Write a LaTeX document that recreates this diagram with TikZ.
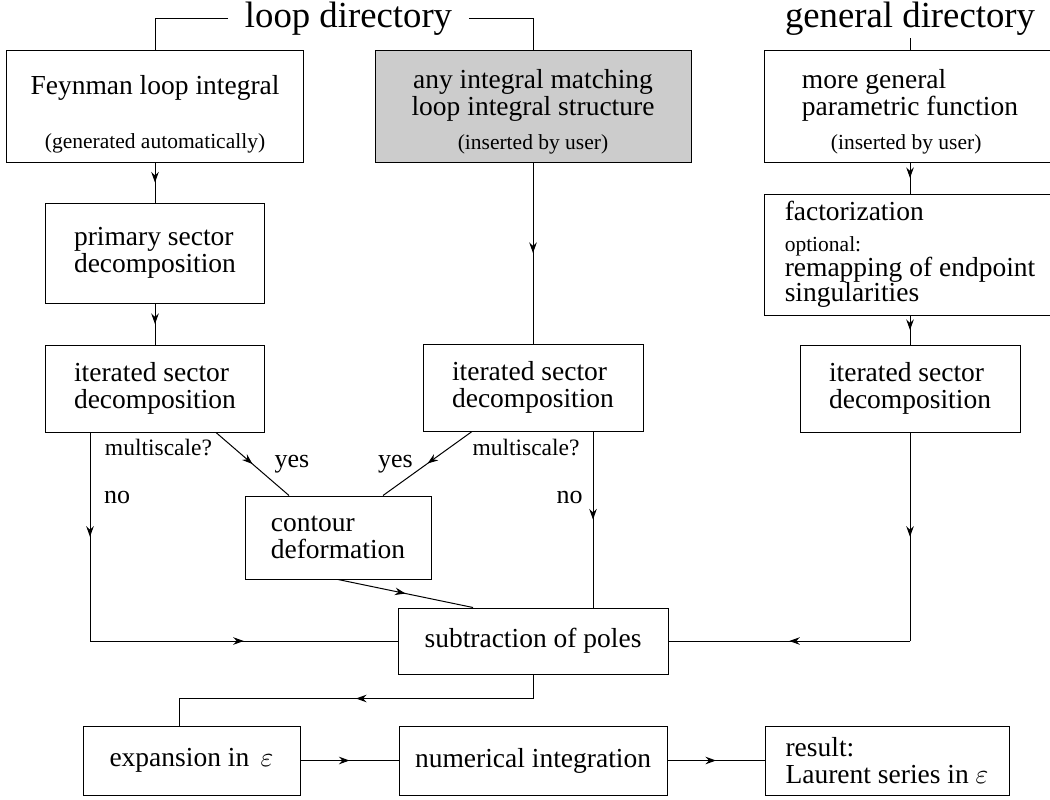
\documentclass[tikz,border=0pt]{standalone}
\usepackage{fontspec}
\setmainfont{Liberation Serif}
\usetikzlibrary{arrows.meta,positioning,decorations.markings}
\newcommand{\subnote}{\fontsize{8.6}{10}\selectfont}

\begin{document}
\begin{tikzpicture}[
    x=0.4pt, y=-0.4pt,
    box/.style = {rectangle, draw=black, thin, align=left, inner sep=2pt,
                  font=\fontsize{11}{10.8}\selectfont},
    head/.style = {font=\fontsize{14.7}{16}\selectfont, inner sep=1pt, inner xsep=6.5pt},
    lbl/.style = {font=\fontsize{10.4}{12}\selectfont, inner sep=0pt,
                  text height=7pt, text depth=2.5pt},
    ask/.style = {lbl, font=\fontsize{9.4}{11}\selectfont},
    arrow/.style = {thin, postaction={decorate},
      decoration={markings, mark=at position 0.5 with {\arrow{Stealth[length=4.2pt,width=3pt]}}}}
  ]
    \useasboundingbox (0,0) rectangle (1050,799);
    % directories
    \node[head] (ld) at (348.5,18.5) {loop directory};
    \node[head] (gd) at (910,18.5) {general directory};
    % top row
    \node[box, align=center, minimum width=118.4pt, minimum height=44.4pt] (fey) at (155,106.5)
      {\rule{0pt}{13.7pt}Feynman loop integral\\[10.6pt]\subnote(generated automatically)};
    \node[box, align=center, fill=black!20, minimum width=126.4pt, minimum height=44.4pt] (any) at (533,106.5)
      {\rule{0pt}{11.5pt}any integral matching\\loop integral structure\\[2.8pt]\subnote(inserted by user)};
    \node[box, minimum width=116.8pt, minimum height=44.4pt] (gen) at (910,106.5)
      {\rule{0pt}{11.5pt}more general\\parametric function\\[2.8pt]\hspace*{11.6pt}\subnote(inserted by user)};
    % left column
    \node[box, minimum width=87.2pt, minimum height=40pt, below=16pt of fey] (prim) {primary sector\\decomposition};
    \node[box, minimum width=87.2pt, minimum height=34.8pt, below=16.4pt of prim] (itl) {iterated sector\\decomposition};
    % middle column
    \node[box, minimum width=88pt, minimum height=34.8pt, below=72.4pt of any] (itm) {iterated sector\\decomposition};
    % right column
    \node[box, minimum width=116.8pt, minimum height=48.4pt, below=12.4pt of gen] (fac)
      {factorization\\[1.6pt]{\subnote optional:}\\[-1pt]remapping of endpoint\\[-0.6pt]singularities};
    \node[box, minimum width=88pt, minimum height=34.8pt, below=11.6pt of fac] (itr) {iterated sector\\decomposition};
    % lower part
    \node[box, minimum width=74.4pt, minimum height=33.2pt] (con) at (338,537.5) {contour\\deformation};
    \node[box, minimum width=108pt, minimum height=26.4pt] (sub) at (533,641) {subtraction of poles};
    \node[box, minimum width=86.8pt, minimum height=27.6pt] (exp) at (191.5,760.5) {expansion in \,$\varepsilon$};
    \node[box, minimum width=107.2pt, minimum height=27.6pt, right=39.2pt of exp] (num) {numerical integration};
    \node[box, minimum width=97.6pt, minimum height=27.6pt, right=38.8pt of num] (res) {result:\\Laurent series in $\varepsilon$};
    % branch labels
    \node[ask] (msl) at (158.5,450) {multiscale?};
    \node[ask] (msr) at (526,450) {multiscale?};
    \node[lbl] (yl) at (292,461.4) {yes};
    \node[lbl] (yr) at (395.5,461.4) {yes};
    \node[lbl] (nl) at (117,498) {no};
    \node[lbl] (nr) at (569.5,498) {no};
    % connectors
    \draw[thin] (ld.west) -| (fey.north);
    \draw[thin] (ld.east) -| (any.north);
    \draw[thin] (gd.south) -- (gen.north);
    \draw[arrow] (fey) -- (prim);
    \draw[arrow] (prim) -- (itl);
    \draw[arrow] (any) -- (itm);
    \draw[arrow] (gen) -- (fac);
    \draw[arrow] (fac) -- (itr);
    \draw[arrow] ([xshift=24.4pt]itl.south) -- ([xshift=-19.6pt]con.north);
    \draw[arrow] ([xshift=-24.4pt]itm.south) -- ([xshift=18pt]con.north);
    \draw[arrow] ([xshift=-26pt]itl.south) -- ([xshift=-26pt]itl.south |- sub.west) coordinate (nol);
    \draw[arrow] (nol) -- (sub.west);
    \draw[arrow] ([xshift=24pt]itm.south) -- ([xshift=24pt]itm.south |- sub.north);
    \draw[arrow] (itr.south) -- (itr.south |- sub.east) coordinate (nor);
    \draw[arrow] (nor) -- (sub.east);
    \draw[arrow] (con.south) -- ([xshift=-24pt]sub.north);
    \coordinate[below=9.6pt of sub.south] (cb);
    \draw[thin] (sub.south) -- (cb);
    \draw[arrow] (cb) -- ([xshift=-5pt]exp.north |- cb) coordinate (cx);
    \draw[thin] (cx) -- ([xshift=-5pt]exp.north);
    \draw[arrow] (exp) -- (num);
    \draw[arrow] (num) -- (res);
\end{tikzpicture}
\end{document}
